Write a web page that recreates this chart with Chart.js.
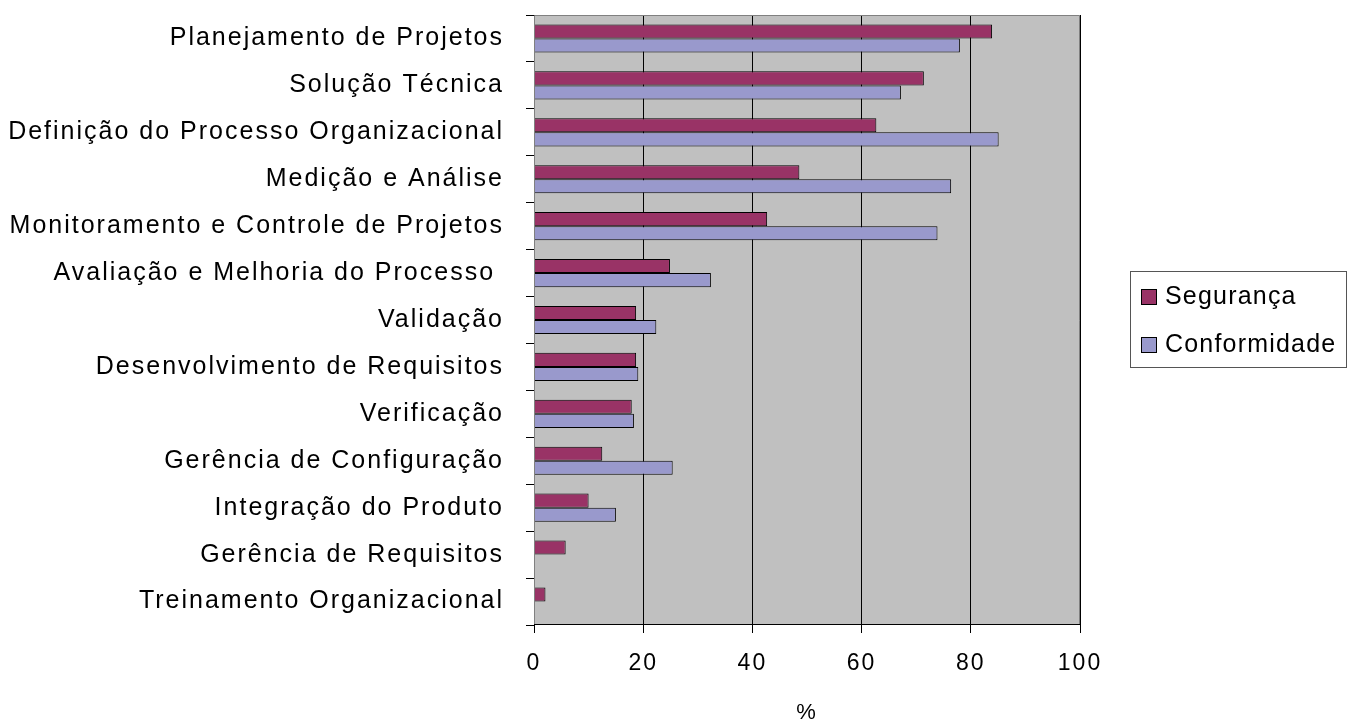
<!DOCTYPE html>
<html>
<head>
<meta charset="utf-8">
<script src="https://cdn.jsdelivr.net/npm/chart.js@4.4.0/dist/chart.umd.min.js"></script>
<style>
  html, body { margin: 0; padding: 0; background: #fff; }
  #wrap { width: 1349px; height: 726px; }
</style>
</head>
<body>
<div id="wrap"><canvas id="BarChart" width="1349" height="726"></canvas></div>
<script>
const categories = [
  "Planejamento de Projetos",
  "Solução Técnica",
  "Definição do Processo Organizacional",
  "Medição e Análise",
  "Monitoramento e Controle de Projetos",
  "Avaliação e Melhoria do Processo ",
  "Validação",
  "Desenvolvimento de Requisitos",
  "Verificação",
  "Gerência de Configuração",
  "Integração do Produto",
  "Gerência de Requisitos",
  "Treinamento Organizacional"
];
const seguranca = [83.9, 71.4, 62.7, 48.6, 42.7, 24.9, 18.7, 18.7, 17.9, 12.5, 10.0, 5.8, 2.1];
const conformidade = [78.0, 67.2, 85.1, 76.4, 73.9, 32.4, 22.4, 19.1, 18.3, 25.4, 15.0, 0, 0];
const xTicks = [0, 20, 40, 60, 80, 100];
const xTitle = "%";

const FONT = "'Liberation Sans', Arial, sans-serif";
const SPACING = "2px";

// Excel text is a bit spread out, canvas needs letterSpacing set each pass
const spacing = {
  id: "spacing",
  beforeLayout(chart) { chart.ctx.letterSpacing = SPACING; },
  beforeDraw(chart) { chart.ctx.letterSpacing = SPACING; }
};

// grey plot area behind the bars
const plotBg = {
  id: "plotBg",
  beforeDraw(chart) {
    const a = chart.chartArea;
    const c = chart.ctx;
    c.save();
    c.fillStyle = "#C0C0C0";
    c.fillRect(a.left, a.top, a.right - a.left, a.bottom - a.top);
    c.restore();
  },
  afterDraw(chart) {
    const a = chart.chartArea;
    const c = chart.ctx;
    c.save();
    c.strokeStyle = "#808080";
    c.lineWidth = 1;
    c.beginPath();
    c.moveTo(a.left + 0.5, a.bottom);
    c.lineTo(a.left + 0.5, a.top + 0.5);
    c.lineTo(a.right - 0.5, a.top + 0.5);
    c.lineTo(a.right - 0.5, a.bottom);
    c.stroke();
    c.strokeStyle = "#000";
    c.beginPath();
    c.moveTo(a.left, a.bottom - 0.5);
    c.lineTo(a.right, a.bottom - 0.5);
    c.stroke();
    c.restore();
  }
};

// boxed legend on the right, like the old Excel one
const boxLegend = {
  id: "boxLegend",
  afterDraw(chart) {
    const c = chart.ctx;
    const left = 1130, top = 271, width = 216, height = 96;
    c.save();
    c.letterSpacing = "1.2px";
    c.strokeStyle = "#555";
    c.lineWidth = 1;
    c.strokeRect(left + 0.5, top + 0.5, width, height);
    c.font = "25px " + FONT;
    c.textBaseline = "middle";
    chart.data.datasets.forEach(function (ds, i) {
      const y = top + 26 + i * 48;
      c.fillStyle = ds.backgroundColor;
      c.fillRect(left + 11, y - 8, 15, 15);
      c.strokeStyle = "#000";
      c.strokeRect(left + 11.5, y - 7.5, 15, 15);
      c.fillStyle = "#000";
      c.fillText(ds.label, left + 35, y);
    });
    c.restore();
  }
};

new Chart(document.getElementById("BarChart"), {
  type: "bar",
  data: {
    labels: categories,
    datasets: [
      {
        label: "Segurança",
        data: seguranca,
        backgroundColor: "#993366",
        borderColor: "#000",
        borderWidth: 1,
        categoryPercentage: 0.6,
        barPercentage: 1.0
      },
      {
        label: "Conformidade",
        data: conformidade,
        backgroundColor: "#9999CC",
        borderColor: "#000",
        borderWidth: 1,
        categoryPercentage: 0.6,
        barPercentage: 1.0
      }
    ]
  },
  options: {
    indexAxis: "y",
    responsive: false,
    animation: false,
    layout: { padding: { left: 0, right: 269, top: 15, bottom: 0 } },
    plugins: {
      legend: { display: false },
      tooltip: { enabled: false }
    },
    scales: {
      x: {
        min: 0,
        max: 100,
        afterBuildTicks(scale) {
          scale.ticks = xTicks.map(function (v) { return { value: v }; });
        },
        afterFit(scale) { scale.height = 101; },
        grid: {
          color: "#000",
          lineWidth: 1,
          drawTicks: true,
          tickLength: 8
        },
        border: { display: false },
        ticks: {
          color: "#000",
          font: { family: FONT, size: 23 },
          padding: 17,
          maxRotation: 0
        },
        title: {
          display: true,
          text: xTitle,
          color: "#000",
          font: { family: FONT, size: 22 },
          padding: { top: 14, bottom: 0 }
        }
      },
      y: {
        afterFit(scale) {
          scale.width = 534;
          scale.paddingTop = 0;
          scale.paddingBottom = 0;
        },
        grid: {
          offset: true,
          drawOnChartArea: false,
          drawTicks: true,
          tickLength: 8,
          color: "#000"
        },
        border: { display: false },
        ticks: {
          color: "#000",
          font: { family: FONT, size: 25 },
          padding: 22,
          autoSkip: false
        }
      }
    }
  },
  plugins: [spacing, plotBg, boxLegend]
});
</script>
</body>
</html>
